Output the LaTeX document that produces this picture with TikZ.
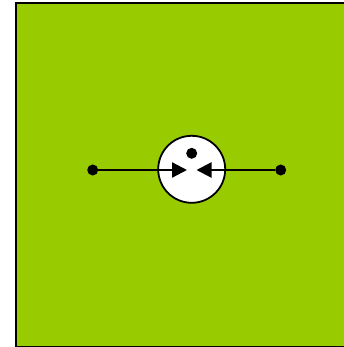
\documentclass[tikz,border=0pt]{standalone}
\usetikzlibrary{arrows.meta}
\definecolor{bggreen}{HTML}{99CC00}
\begin{document}
\begin{tikzpicture}[x=1pt,y=-1pt,
  dotnode/.style={circle,fill=black,inner sep=0pt,minimum size=11pt},
  ringnode/.style={circle,draw=black,fill=white,line width=1.8pt,inner sep=0pt,minimum size=67pt},
  conn/.style={line width=2.3pt,-{Triangle[length=15pt,width=15pt]}}]
\useasboundingbox (0,0) rectangle (344,347);
\draw[fill=bggreen,line width=1.8pt] (16,3) rectangle (346,346.5);
\node[ringnode] (ring) at (191.7,169.3) {};
\node[dotnode] (top) at (191.7,153.3) {};
\node[dotnode] (l) at (92.7,170) {};
\node[dotnode] (r) at (280.7,170) {};
\coordinate (lt) at (187,170);
\coordinate (rt) at (196.5,170);
\draw[conn] (l) -- (lt);
\draw[conn] (r) -- (rt);
\end{tikzpicture}
\end{document}
